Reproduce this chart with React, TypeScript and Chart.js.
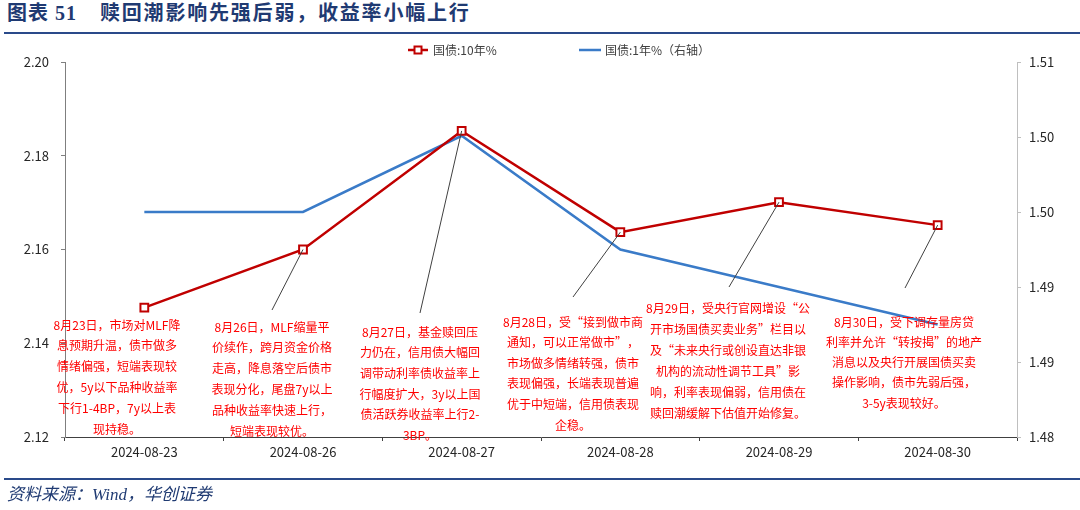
import React, { useEffect, useRef } from "react";
import { Chart, registerables } from "chart.js";

Chart.register(...registerables);

// ---------- data ----------
const categories = ["2024-08-23", "2024-08-26", "2024-08-27", "2024-08-28", "2024-08-29", "2024-08-30"];
const cgb10y = [2.1476, 2.16, 2.1853, 2.1637, 2.1701, 2.1652];
const cgb1y = [1.498, 1.498, 1.5041, 1.495, 1.492, 1.489];
const leftTickValues = [2.12, 2.14, 2.16, 2.18, 2.2];
const rightTickValues = [1.48, 1.486, 1.492, 1.498, 1.504, 1.51];
const seriesLabels = ["国债:10年%", "国债:1年%（右轴）"];

const note0823 = ["8月23日，市场对MLF降", "息预期升温，债市做多", "情绪偏强，短端表现较", "优，5y以下品种收益率", "下行1-4BP，7y以上表", "现持稳。"];
const note0826 = ["8月26日，MLF缩量平", "价续作，跨月资金价格", "走高，降息落空后债市", "表现分化，尾盘7y以上", "品种收益率快速上行，", "短端表现较优。"];
const note0827 = ["8月27日，基金赎回压", "力仍在，信用债大幅回", "调带动利率债收益率上", "行幅度扩大，3y以上国", "债活跃券收益率上行2-", "3BP。"];
const note0828 = ["8月28日，受“接到做市商", "通知，可以正常做市”，", "市场做多情绪转强，债市", "表现偏强，长端表现普遍", "优于中短端，信用债表现", "企稳。"];
const note0829 = ["8月29日，受央行官网增设“公", "开市场国债买卖业务”栏目以", "及“未来央行或创设直达非银", "机构的流动性调节工具”影", "响，利率表现偏弱，信用债在", "赎回潮缓解下估值开始修复。"];
const note0830 = ["8月30日，受下调存量房贷", "利率并允许“转按揭”的地产", "消息以及央行开展国债买卖", "操作影响，债市先弱后强，", "3-5y表现较好。"];
const notes = [note0823, note0826, note0827, note0828, note0829, note0830];

// ---------- layout (positions only) ----------
const noteLayout = [
  { cx: 117, y0: 325, lh: 20.9, end: null as null | [number, number] },
  { cx: 272, y0: 327, lh: 20.8, end: [272, 310] as [number, number] },
  { cx: 420, y0: 332, lh: 20.7, end: [420, 313] as [number, number] },
  { cx: 573, y0: 322, lh: 20.6, end: [573, 297] as [number, number] },
  { cx: 728, y0: 308, lh: 21, end: [729, 287] as [number, number] },
  { cx: 904, y0: 322, lh: 20.3, end: [905, 288] as [number, number] },
];

const RED = "#C00000";
const BLUE = "#3A7BC8";
const NAVY = "#1F3A72";
const FONT = '"Noto Sans CJK SC", "Noto Sans", sans-serif';

const overlayPlugin = {
  id: "overlay",
  afterDatasetsDraw(chart: any) {
    const ctx = chart.ctx as CanvasRenderingContext2D;
    const xs = chart.scales.x;
    const ys = chart.scales.y;
    ctx.save();
    // leader lines
    ctx.strokeStyle = "#404040";
    ctx.lineWidth = 1;
    noteLayout.forEach((l, i) => {
      if (!l.end) return;
      const px = xs.getPixelForValue(i);
      const py = ys.getPixelForValue(cgb10y[i]);
      ctx.beginPath();
      ctx.moveTo(px, py);
      ctx.lineTo(l.end[0], l.end[1]);
      ctx.stroke();
    });
    // annotation text
    ctx.fillStyle = "#FF0000";
    ctx.font = `12px ${FONT}`;
    ctx.textAlign = "center";
    ctx.textBaseline = "middle";
    notes.forEach((lines, i) => {
      const l = noteLayout[i];
      lines.forEach((t, k) => ctx.fillText(t, l.cx, l.y0 + k * l.lh));
    });
    // legend
    const ly = 50;
    ctx.lineWidth = 2.5;
    ctx.strokeStyle = RED;
    ctx.beginPath();
    ctx.moveTo(408, ly);
    ctx.lineTo(428, ly);
    ctx.stroke();
    ctx.fillStyle = "#fff";
    ctx.lineWidth = 2;
    ctx.fillRect(414.5, ly - 3.5, 7, 7);
    ctx.strokeRect(414.5, ly - 3.5, 7, 7);
    ctx.strokeStyle = BLUE;
    ctx.lineWidth = 2.5;
    ctx.beginPath();
    ctx.moveTo(579, ly);
    ctx.lineTo(601, ly);
    ctx.stroke();
    ctx.fillStyle = "#404040";
    ctx.font = `12px ${FONT}`;
    ctx.textAlign = "left";
    ctx.fillText(chart.data.datasets[0].label, 433, ly);
    ctx.fillText(chart.data.datasets[1].label, 605, ly);
    ctx.restore();
  },
};

export default function App() {
  const ref = useRef<HTMLCanvasElement | null>(null);

  useEffect(() => {
    if (!ref.current) return;
    const chart = new Chart(ref.current, {
      type: "line",
      data: {
        labels: categories,
        datasets: [
          {
            label: seriesLabels[0],
            data: cgb10y,
            yAxisID: "y",
            borderColor: RED,
            borderWidth: 2.5,
            pointStyle: "rect",
            pointRadius: 5.5,
            pointBackgroundColor: "#fff",
            pointBorderColor: RED,
            pointBorderWidth: 2,
            tension: 0,
          },
          {
            label: seriesLabels[1],
            data: cgb1y,
            yAxisID: "y1",
            borderColor: BLUE,
            borderWidth: 2.5,
            pointRadius: 0,
            tension: 0,
          },
        ],
      },
      options: {
        responsive: false,
        animation: false,
        devicePixelRatio: 1,
        layout: { padding: { top: 62, left: 0, right: 0, bottom: 0 } },
        plugins: { legend: { display: false }, tooltip: { enabled: false } },
        scales: {
          x: {
            type: "category",
            offset: true,
            grid: { offset: true, drawOnChartArea: false, drawTicks: true, tickLength: 4, color: "#404040" },
            border: { display: true, color: "#404040", width: 1 },
            ticks: { color: "#262626", font: { family: FONT, size: 13 }, padding: 3, maxRotation: 0 },
            afterFit: (s: any) => {
              s.height = 73;
            },
          },
          y: {
            position: "left",
            min: 2.12,
            max: 2.2,
            afterBuildTicks: (s: any) => {
              s.ticks = leftTickValues.map((v) => ({ value: v }));
            },
            grid: { drawOnChartArea: false, drawTicks: true, tickLength: 4, color: "#7f7f7f" },
            border: { display: true, color: "#7f7f7f", width: 1 },
            ticks: {
              color: "#262626",
              font: { family: FONT, size: 13 },
              padding: 12,
              callback: (v: any) => Number(v).toFixed(2),
            },
            afterFit: (s: any) => {
              s.width = 65;
            },
          },
          y1: {
            position: "right",
            min: 1.48,
            max: 1.51,
            afterBuildTicks: (s: any) => {
              s.ticks = rightTickValues.map((v) => ({ value: v }));
            },
            grid: { drawOnChartArea: false, drawTicks: true, tickLength: 4, color: "#bfbfbf" },
            border: { display: true, color: "#bfbfbf", width: 1 },
            ticks: {
              color: "#262626",
              font: { family: FONT, size: 13 },
              padding: 8,
              callback: (v: any) => Number(v).toFixed(2),
            },
            afterFit: (s: any) => {
              s.width = 63;
            },
          },
        },
      },
      plugins: [overlayPlugin],
    });
    return () => chart.destroy();
  }, []);

  return (
    <div style={{ position: "fixed", left: 0, top: 0, width: 1080, height: 510, background: "#fff", overflow: "hidden" }}>
      <div
        style={{
          position: "absolute",
          left: 7,
          top: 1,
          fontFamily: `"Liberation Serif", ${FONT}`,
          fontWeight: 700,
          fontSize: 20,
          lineHeight: "24px",
          color: NAVY,
          letterSpacing: 1,
          whiteSpace: "nowrap",
        }}
      >
        图表 51
      </div>
      <div
        style={{
          position: "absolute",
          left: 100,
          top: 1,
          fontFamily: `"Liberation Serif", ${FONT}`,
          fontWeight: 700,
          fontSize: 20,
          lineHeight: "24px",
          color: NAVY,
          letterSpacing: 1.8,
          whiteSpace: "nowrap",
        }}
      >
        赎回潮影响先强后弱，收益率小幅上行
      </div>
      <div style={{ position: "absolute", left: 4, top: 32, width: 1076, height: 2, background: "#2A4A8A" }} />
      <canvas ref={ref} width={1080} height={510} style={{ position: "absolute", left: 0, top: 0, display: "block" }} />
      <div style={{ position: "absolute", left: 4, top: 478, width: 1076, height: 2, background: "#2A4A8A" }} />
      <div
        style={{
          position: "absolute",
          left: 7,
          top: 484,
          fontFamily: `"Liberation Serif", ${FONT}`,
          fontStyle: "italic",
          fontSize: 17,
          lineHeight: "22px",
          color: NAVY,
          whiteSpace: "nowrap",
        }}
      >
        资料来源：Wind，华创证券
      </div>
    </div>
  );
}
